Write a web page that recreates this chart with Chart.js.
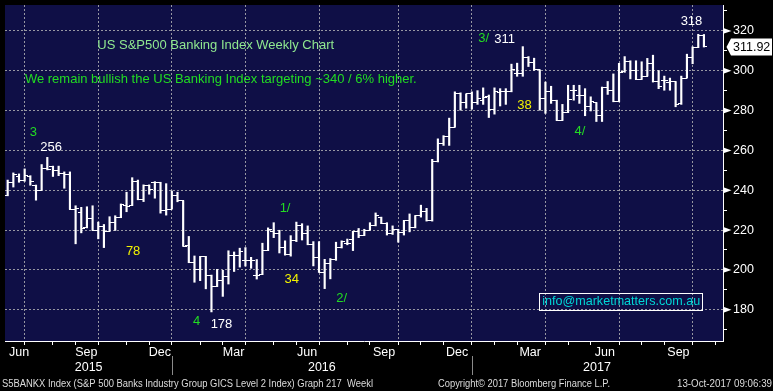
<!DOCTYPE html>
<html><head><meta charset="utf-8">
<script src="https://cdn.jsdelivr.net/npm/chart.js@4.4.1/dist/chart.umd.min.js"></script>
<style>html,body{margin:0;padding:0;background:#000;overflow:hidden}canvas{display:block}</style>
</head><body>
<canvas id="c" width="773" height="391"></canvas>
<script>
// Weekly OHLC, S5BANKX Index, Jun 2015 - Oct 2017
const openVals = [
 237.2,243.8,247.0,245.0,247.0,242.6,240.1,250.9,252.0,249.9,
 248.2,247.9,230.5,229.0,221.5,226.0,220.0,222.0,219.3,223.7,
 226.2,232.5,232.3,244.6,235.2,242.2,243.8,243.8,229.7,230.5,
 237.6,234.7,212.2,203.9,200.3,206.5,197.4,191.6,194.9,196.5,
 207.3,207.3,204.9,204.7,197.4,197.6,209.7,219.4,218.3,211.0,
 207.7,214.6,222.1,218.3,212.6,206.4,198.7,203.1,205.3,211.3,
 213.4,215.5,219.4,217.2,219.9,222.4,226.5,223.5,218.3,220.4,
 218.8,224.8,221.2,227.3,229.2,224.8,254.2,263.3,267.1,271.6,
 288.4,284.0,288.4,284.0,285.0,287.3,280.7,289.0,289.4,289.4,
 298.8,298.8,306.8,304.3,300.5,286.1,289.7,285.2,275.0,279.0,
 290.2,287.4,287.4,282.2,284.0,277.5,291.5,290.2,284.4,299.6,
 304.6,300.1,295.6,297.3,303.7,294.8,295.1,294.3,294.6,283.6,
 296.3,306.7,311.6,317.7
];
const highVals = [
 245.1,248.7,248.2,250.7,247.3,242.6,252.9,256.5,252.1,252.1,
 249.2,249.2,232.2,231.4,231.7,232.2,224.0,222.8,226.7,227.2,
 233.1,239.0,246.3,245.1,242.7,242.7,244.3,244.0,243.3,239.6,
 239.0,234.7,216.8,207.0,206.8,206.8,197.4,200.3,199.8,209.6,
 209.0,210.9,211.2,206.3,205.2,213.4,221.1,223.7,219.9,214.6,
 217.2,224.0,223.2,222.1,214.2,214.2,205.3,205.7,213.9,214.6,
 215.5,219.4,220.8,220.4,223.7,228.6,226.5,223.7,222.1,220.4,
 224.8,228.1,227.3,232.5,230.9,255.5,265.8,267.4,276.2,289.4,
 288.9,288.4,289.4,290.0,291.4,287.8,291.4,291.0,291.0,303.3,
 303.8,312.1,307.1,306.3,300.5,294.3,292.2,285.2,283.1,292.7,
 292.7,292.7,291.0,286.9,284.0,291.8,294.6,298.4,303.7,307.1,
 305.0,305.0,304.5,306.2,307.8,300.1,297.3,296.3,294.6,297.3,
 308.3,312.0,318.3,318.2
];
const lowVals = [
 237.2,241.6,244.0,244.5,242.5,235.0,240.1,250.2,246.9,247.3,
 241.0,230.5,213.1,218.6,221.1,219.8,215.6,211.2,219.3,219.8,
 226.2,229.2,232.3,235.2,234.3,238.0,236.0,228.5,227.5,230.5,
 234.2,211.8,203.6,193.8,194.6,190.5,178.9,191.6,186.7,192.9,
 199.2,201.4,201.9,200.8,195.4,197.6,209.7,216.2,208.5,207.4,
 206.9,214.2,215.0,212.6,202.0,198.7,190.6,195.5,204.8,211.0,
 212.6,209.7,216.2,217.2,219.9,222.1,223.2,217.5,217.8,213.9,
 217.5,219.1,221.1,226.5,224.5,224.5,254.2,262.5,262.5,271.6,
 280.2,281.2,280.7,283.1,283.1,276.5,278.2,282.3,283.1,289.4,
 297.2,297.2,302.1,300.2,280.2,278.6,283.6,275.0,275.0,279.0,
 285.2,283.6,277.4,279.8,274.5,274.5,288.1,284.4,284.4,299.2,
 295.9,295.6,295.6,297.3,294.3,291.0,290.2,290.2,281.9,283.1,
 296.3,303.5,311.6,311.9
];
const closeVals = [
 243.8,247.7,245.0,247.3,244.5,240.0,250.9,250.6,249.9,248.2,
 248.0,230.5,231.0,221.0,226.0,219.8,222.0,219.3,223.7,226.2,
 233.0,232.0,244.6,235.2,242.2,240.6,243.8,229.7,230.5,237.6,
 234.7,211.8,203.9,200.3,206.5,197.4,191.6,194.9,196.5,207.3,
 207.3,209.0,204.7,204.9,197.4,209.7,220.4,218.3,211.0,207.7,
 214.6,222.1,218.3,212.6,206.4,198.7,203.1,205.3,211.3,214.2,
 213.4,219.4,217.2,219.9,222.4,227.3,223.5,218.3,220.4,218.8,
 224.8,221.2,227.3,229.2,224.8,254.2,263.3,267.1,271.6,288.4,
 284.0,288.4,284.0,286.1,286.6,280.7,289.4,289.4,289.4,300.5,
 298.8,306.8,304.3,300.5,286.0,289.7,285.2,275.0,279.0,285.6,
 290.2,287.4,282.2,284.8,277.5,291.5,290.2,284.4,299.2,304.6,
 300.1,295.6,297.3,303.7,294.8,292.3,295.1,294.6,283.1,296.3,
 306.7,311.6,317.7,311.92
];
const lastPrice = 311.92;

// axis ticks
const yTickVals = [170,180,190,200,210,220,230,240,250,260,270,280,290,300,310,320,330];
const monthTickIdx = [3,8,12,16,21,25,29,34,38,42,47,51,55,60,64,69,73,77,82,86,90,95,99,103,108,112,116,121,125];
const quarterTickIdx = [3,16,29,42,55,69,82,95,108,121];
const monthLabels = ['Jun','Sep','Dec','Mar','Jun','Sep','Dec','Mar','Jun','Sep'];
const monthLabelIdx = [2,13.9,26.9,39.9,52.9,66.5,79.4,92.3,105.5,118.5];
const yearLabels = ['2015','2016','2017'];
const yearLabelIdx = [14.3,55.5,104.1];
const yearBreakIdx = [29,82];

// annotations (text, week index, value)
const noteTexts = ['US S&P500 Banking Index Weekly Chart','We remain bullish the US Banking Index targeting ~340 / 6% higher.','3','256','78','4','178','1/','34','2/','3/','311','38','4/','318'];
const noteIdx   = [15.84,3.04,4.53,7.68,22.16,33.39,37.77,49.0,50.2,59.0,84.1,87.8,91.3,101.1,120.8];
const noteVals  = [312.7,295.4,269.2,261.3,209.3,174.0,172.7,231.1,195.0,185.8,316.2,315.5,282.6,269.4,324.6];
const noteKinds = ['title','comment','wave','price','fib','wave','price','wave','fib','wave','wave','price','fib','wave','price'];

const GREEN='#22dc22', PALE='#90e890', YELLOW='#f2f200', WHITE='#ffffff', CYAN='#00d6d6';
const kindColor = {title:PALE, comment:GREEN, wave:GREEN, price:WHITE, fib:YELLOW};
const FONT = '"Liberation Sans", Arial, sans-serif';
const GRID = 'rgba(185,185,185,0.8)';

function tickImage(side){
  const c=document.createElement('canvas'); c.width=7; c.height=3;
  const g=c.getContext('2d'); g.fillStyle='#fff';
  if(side==='L') g.fillRect(0,1,4,1); else g.fillRect(3,1,4,1);
  return c;
}

const bgPlugin = {
  id:'bg',
  beforeDraw(chart){
    const {ctx, chartArea:a} = chart;
    ctx.save();
    ctx.fillStyle='#000'; ctx.fillRect(0,0,chart.width,chart.height);
    ctx.fillStyle='#0f0f46'; ctx.fillRect(a.left,a.top,a.right-a.left,a.bottom-a.top);
    ctx.restore();
  },
  beforeDatasetsDraw(chart){ chart.ctx.imageSmoothingEnabled=false; }
};

const decoPlugin = {
  id:'deco',
  afterDraw(chart){
    const ctx=chart.ctx, xs=chart.scales.x, ys=chart.scales.y, a=chart.chartArea;
    ctx.save();
    // notes
    ctx.textBaseline='middle';
    noteTexts.forEach((t,k)=>{
      ctx.font='13px '+FONT;
      ctx.fillStyle=kindColor[noteKinds[k]];
      ctx.textAlign=(noteKinds[k]==='title'||noteKinds[k]==='comment')?'left':'center';
      ctx.fillText(t, xs.getPixelForValue(noteIdx[k]), ys.getPixelForValue(noteVals[k]));
    });
    // email box
    const bx0=xs.getPixelForValue(93.9), bx1=xs.getPixelForValue(122.7);
    const by0=ys.getPixelForValue(188.6), by1=ys.getPixelForValue(180.1);
    ctx.strokeStyle='#fff'; ctx.lineWidth=1;
    ctx.strokeRect(Math.round(bx0)+0.5, Math.round(by0)+0.5, Math.round(bx1-bx0), Math.round(by1-by0));
    ctx.fillStyle=CYAN; ctx.textAlign='left'; ctx.font='13px '+FONT;
    ctx.fillText('info@marketmatters.com.au', bx0+3, (by0+by1)/2+0.5, bx1-bx0-5);
    // y-axis arrows
    ctx.fillStyle='#fff';
    yTickVals.filter(v=>v%20===0).forEach(v=>{
      const y=ys.getPixelForValue(v);
      ctx.beginPath(); ctx.moveTo(a.right+1,y-2.7); ctx.lineTo(a.right+8.5,y); ctx.lineTo(a.right+1,y+2.7); ctx.closePath(); ctx.fill();
    });
    // last price tag
    const py=ys.getPixelForValue(lastPrice);
    ctx.beginPath(); ctx.moveTo(a.right+3.5,py); ctx.lineTo(a.right+8,py-8.5); ctx.lineTo(772,py-8.5); ctx.lineTo(772,py+8.5); ctx.lineTo(a.right+8,py+8.5); ctx.closePath();
    ctx.fillStyle='#fff'; ctx.fill();
    ctx.fillStyle='#000'; ctx.font='12.5px '+FONT; ctx.textAlign='left';
    ctx.fillText(lastPrice.toFixed(2), a.right+10, py+0.5);
    // month + year labels
    ctx.fillStyle='#fff'; ctx.textAlign='center'; ctx.font='12.5px '+FONT;
    monthLabels.forEach((m,k)=>ctx.fillText(m, xs.getPixelForValue(monthLabelIdx[k]), a.bottom+11.5));
    yearLabels.forEach((m,k)=>ctx.fillText(m, xs.getPixelForValue(yearLabelIdx[k]), a.bottom+26.5));
    ctx.strokeStyle='#8a8a8a'; ctx.lineWidth=1;
    yearBreakIdx.forEach(i=>{const x=Math.round(xs.getPixelForValue(i))+0.5; ctx.beginPath(); ctx.moveTo(x,a.bottom+15); ctx.lineTo(x,a.bottom+34); ctx.stroke();});
    // footer
    ctx.fillStyle='#dcdcdc'; ctx.font='10px '+FONT; ctx.textAlign='left';
    ctx.fillText('S5BANKX Index (S&P 500 Banks Industry Group GICS Level 2 Index) Graph 217  Weekl', 2, 384, 371);
    ctx.fillText('Copyright\u00A9 2017 Bloomberg Finance L.P.', 438, 384, 172);
    ctx.fillText('13-Oct-2017 09:06:39', 677, 384, 95);
    ctx.restore();
  }
};

new Chart(document.getElementById('c'), {
  type:'bar',
  data:{datasets:[
    {type:'bar', data: highVals.map((h,i)=>({x:i, y:[lowVals[i], h]})), backgroundColor:'#ffffff', borderWidth:0, barThickness:1.5, xAxisID:'x', yAxisID:'y', order:2},
    {type:'scatter', data: openVals.map((o,i)=>({x:i, y:o})), pointStyle: tickImage('L'), pointRadius:3, xAxisID:'x', yAxisID:'y', order:1},
    {type:'scatter', data: closeVals.map((c,i)=>({x:i, y:c})), pointStyle: tickImage('R'), pointRadius:3, xAxisID:'x', yAxisID:'y', order:1}
  ]},
  options:{
    responsive:false, animation:false, devicePixelRatio:1, events:[],
    layout:{padding:0},
    plugins:{legend:{display:false}, tooltip:{enabled:false}},
    scales:{
      x:{type:'linear', position:'bottom', min:-0.474, max:126.37, offset:false,
        afterBuildTicks(s){ s.ticks = monthTickIdx.map(v=>({value:v})); },
        afterFit(s){ s.height=50; s.paddingLeft=0; s.paddingRight=0; },
        ticks:{display:false},
        grid:{offset:false, drawOnChartArea:true, lineWidth:1, tickLength:4, tickWidth:1, tickColor:'#ffffff',
          color:(c)=> (c.tick && quarterTickIdx.includes(c.tick.value)) ? GRID : 'rgba(0,0,0,0)'},
        border:{display:true, color:'#ffffff', width:1, dash:[2,2]}
      },
      y:{type:'linear', position:'right', min:164.3, max:333.0,
        afterBuildTicks(s){ s.ticks = yTickVals.map(v=>({value:v})); },
        afterFit(s){ s.width=50; s.paddingTop=0; s.paddingBottom=0; },
        ticks:{color:'#ffffff', padding:6, font:{family:'"Liberation Sans", Arial, sans-serif', size:12.5},
          callback:(v)=> v%20===0 ? String(v) : ''},
        grid:{drawOnChartArea:true, lineWidth:1, tickLength:4, tickWidth:1, tickColor:'#ffffff',
          color:(c)=> (c.tick && c.tick.value%20===0) ? GRID : 'rgba(0,0,0,0)'},
        border:{display:true, color:'#ffffff', width:1, dash:[2,2]}
      }
    }
  },
  plugins:[bgPlugin, decoPlugin]
});
</script>
</body></html>
